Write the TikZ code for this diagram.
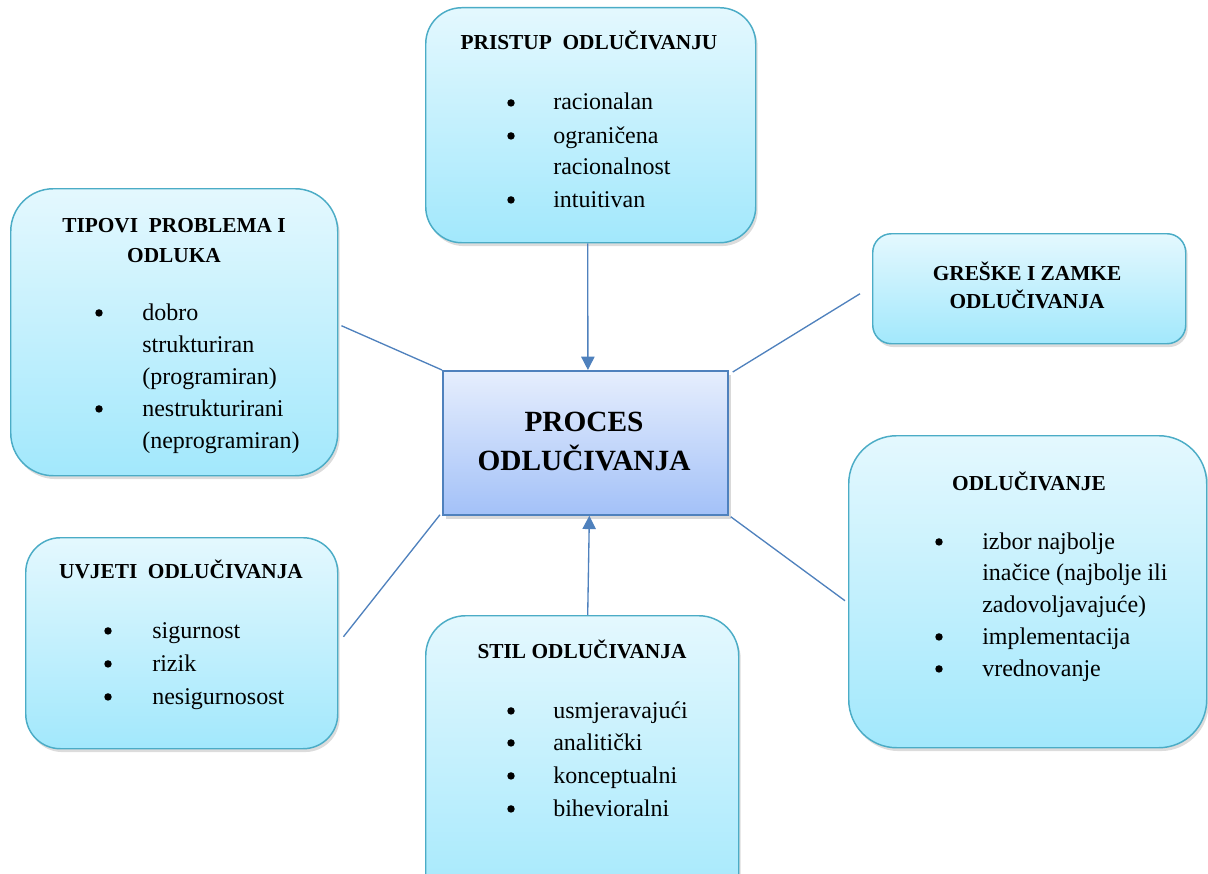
\documentclass[tikz,border=0pt]{standalone}
\usepackage{fontspec}
\setmainfont{Liberation Serif}
\usetikzlibrary{shadows,arrows.meta}
\definecolor{bord}{RGB}{75,172,198}
\definecolor{boxtop}{RGB}{228,248,254}
\definecolor{boxbot}{RGB}{162,232,252}
\definecolor{ctop}{RGB}{230,238,253}
\definecolor{cbot}{RGB}{163,193,248}
\definecolor{cbord}{RGB}{79,129,189}
\definecolor{lnk}{RGB}{79,129,189}
\tikzset{
  box/.style={draw=bord, line width=1.1pt, top color=boxtop, bottom color=boxbot,
    drop shadow={opacity=0.28, shadow xshift=1.5pt, shadow yshift=-2.5pt},
    inner sep=0pt, anchor=north west},
  cbox/.style={draw=cbord, line width=1.3pt, top color=ctop, bottom color=cbot,
    drop shadow={opacity=0.3, shadow xshift=2pt, shadow yshift=-3pt},
    inner sep=0pt, anchor=north west},
  ttl/.style={font=\fontsize{16}{20}\selectfont\bfseries, anchor=base, inner sep=0pt},
  ctl/.style={font=\fontsize{22}{29}\selectfont\bfseries, anchor=base, inner sep=0pt},
  itm/.style={font=\fontsize{18}{24}\selectfont, anchor=base west, inner sep=0pt},
  bul/.style={circle, fill=black, inner sep=0pt, minimum size=5.6pt, yshift=5.3pt},
  conn/.style={draw=lnk, line width=1pt},
  arr/.style={conn, -{Triangle[width=10pt,length=10pt]}},
}
\begin{document}
\begin{tikzpicture}[x=0.75pt,y=-0.75pt]
\useasboundingbox (0,0) rectangle (1208,874);
\clip (0,0) rectangle (1208,874);

% boxes
\node[box, minimum width=247.5pt, minimum height=176.25pt, rounded corners=27pt] (pri) at (425,7) {};
\node[box, minimum width=245.25pt, minimum height=215.25pt, rounded corners=32pt] (tip) at (10,188) {};
\node[box, minimum width=234.75pt, minimum height=82.5pt, rounded corners=14pt] (gre) at (872,233) {};
\node[box, minimum width=268.5pt, minimum height=234pt, rounded corners=36pt] (odl) at (848,435) {};
\node[box, minimum width=234pt, minimum height=158.25pt, rounded corners=26pt] (uv) at (25,537) {};
\node[box, minimum width=234.75pt, minimum height=225pt, rounded corners=30pt] (stil) at (425,615) {};
\node[cbox, minimum width=213.75pt, minimum height=108pt] (proc) at (442,370) {};

% connectors
\draw[arr] ([xshift=-2.25pt]pri.south) -- ([xshift=1.9pt]proc.north);
\draw[arr] ([xshift=4.1pt]stil.north) -- ([xshift=3pt]proc.south);
\draw[conn] ([shift={(3,-6.5)}]tip.east) -- (proc.north west);
\draw[conn] ([shift={(-12,5)}]gre.west) -- ([shift={(4,2)}]proc.north east);
\draw[conn] ([shift={(-3,9)}]odl.west) -- ([shift={(2,1)}]proc.south east);
\draw[conn] ([shift={(5,-6.5)}]uv.east) -- ([shift={(-2,-1)}]proc.south west);

% center text
\node[ctl] (proc-1) at (584,431) {PROCES};
\node[ctl] (proc-2) at (584,470) {ODLUČIVANJA};

% PRISTUP
\node[ttl] (pri-h) at (589,50) {PRISTUP~ ODLUČIVANJU};
\node[bul] (pri-b1) at (511,110) {};
\node[bul] (pri-b2) at (511,143) {};
\node[bul] (pri-b3) at (511,207) {};
\node[itm] (pri-1) at (553,110) {racionalan};
\node[itm] (pri-2) at (553,143) {ograničena};
\node[itm] (pri-3) at (553,175) {racionalnost};
\node[itm] (pri-4) at (553,207) {intuitivan};

% TIPOVI
\node[ttl] (tip-h1) at (174,233) {TIPOVI~ PROBLEMA I};
\node[ttl] (tip-h2) at (174,262) {ODLUKA};
\node[bul] (tip-b1) at (99,320) {};
\node[bul] (tip-b2) at (99,416) {};
\node[itm] (tip-1) at (142,320) {dobro};
\node[itm] (tip-2) at (142,352) {strukturiran};
\node[itm] (tip-3) at (142,384) {(programiran)};
\node[itm] (tip-4) at (142,416) {nestrukturirani};
\node[itm] (tip-5) at (142,448) {(neprogramiran)};

% GRESKE
\node[ttl] (gre-h1) at (1027,280) {GREŠKE I ZAMKE};
\node[ttl] (gre-h2) at (1027,308) {ODLUČIVANJA};

% ODLUCIVANJE
\node[ttl] (odl-h) at (1029,490) {ODLUČIVANJE};
\node[bul] (odl-b1) at (939,549) {};
\node[bul] (odl-b2) at (939,644) {};
\node[bul] (odl-b3) at (939,676) {};
\node[itm] (odl-1) at (982,549) {izbor najbolje};
\node[itm] (odl-2) at (982,580) {inačice (najbolje ili};
\node[itm] (odl-3) at (982,612) {zadovoljavajuće)};
\node[itm] (odl-4) at (982,644) {implementacija};
\node[itm] (odl-5) at (982,676) {vrednovanje};

% UVJETI
\node[ttl] (uv-h) at (181,578) {UVJETI~ ODLUČIVANJA};
\node[bul] (uv-b1) at (108,638) {};
\node[bul] (uv-b2) at (108,671) {};
\node[bul] (uv-b3) at (108,704) {};
\node[itm] (uv-1) at (152,638) {sigurnost};
\node[itm] (uv-2) at (152,671) {rizik};
\node[itm] (uv-3) at (152,704) {nesigurnosost};

% STIL
\node[ttl] (stil-h) at (582,658) {STIL ODLUČIVANJA};
\node[bul] (stil-b1) at (511,718) {};
\node[bul] (stil-b2) at (511,750) {};
\node[bul] (stil-b3) at (511,783) {};
\node[bul] (stil-b4) at (511,816) {};
\node[itm] (stil-1) at (553,718) {usmjeravajući};
\node[itm] (stil-2) at (553,750) {analitički};
\node[itm] (stil-3) at (553,783) {konceptualni};
\node[itm] (stil-4) at (553,816) {bihevioralni};
\end{tikzpicture}
\end{document}
